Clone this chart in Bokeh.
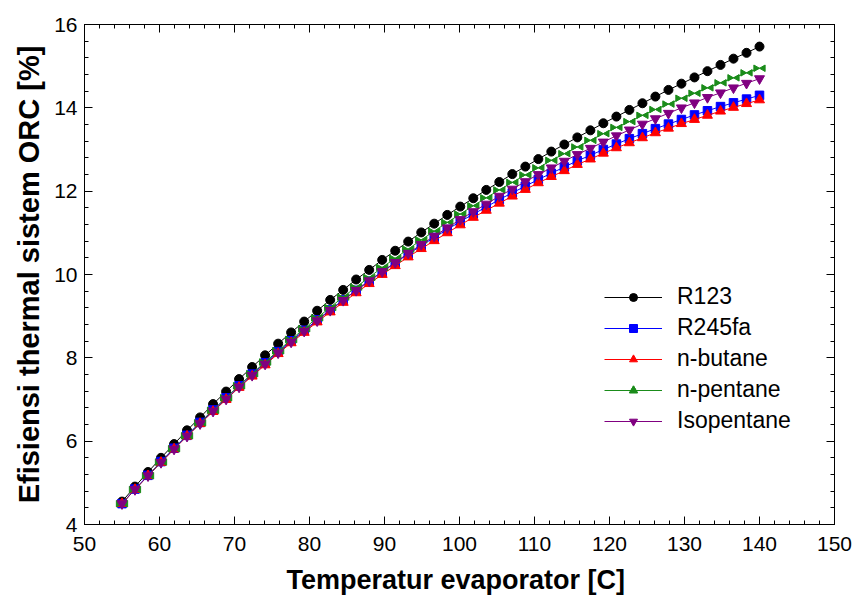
import math
from bokeh.plotting import figure
from bokeh.models import (LinearAxis, SingleIntervalTicker, Range1d, Legend, LegendItem,
                          CustomJSTickFormatter, ColumnDataSource, Title)
from bokeh.transform import dodge
from bokeh.embed import file_html
from bokeh.resources import INLINE

# ---------------- data ----------------
temp = [55.00, 56.73, 58.47, 60.20, 61.94, 63.67, 65.41, 67.14, 68.88, 70.61,
        72.35, 74.08, 75.82, 77.55, 79.29, 81.02, 82.76, 84.49, 86.22, 87.96,
        89.69, 91.43, 93.16, 94.90, 96.63, 98.37, 100.10, 101.84, 103.57, 105.31,
        107.04, 108.78, 110.51, 112.24, 113.98, 115.71, 117.45, 119.18, 120.92, 122.65,
        124.39, 126.12, 127.86, 129.59, 131.33, 133.06, 134.80, 136.53, 138.27, 140.00]

r123 = [4.55, 4.91, 5.26, 5.60, 5.93, 6.26, 6.57, 6.89, 7.19, 7.49,
        7.78, 8.06, 8.34, 8.61, 8.87, 9.13, 9.39, 9.63, 9.88, 10.11,
        10.35, 10.57, 10.79, 11.01, 11.22, 11.43, 11.63, 11.83, 12.03, 12.22,
        12.41, 12.59, 12.77, 12.95, 13.12, 13.29, 13.46, 13.63, 13.79, 13.95,
        14.11, 14.27, 14.43, 14.58, 14.73, 14.88, 15.03, 15.18, 15.32, 15.47]

r245fa = [4.50, 4.85, 5.18, 5.51, 5.83, 6.14, 6.45, 6.75, 7.04, 7.33,
          7.61, 7.88, 8.15, 8.41, 8.66, 8.91, 9.15, 9.39, 9.62, 9.84,
          10.06, 10.28, 10.49, 10.69, 10.89, 11.08, 11.27, 11.45, 11.62, 11.80,
          11.96, 12.12, 12.28, 12.43, 12.58, 12.73, 12.86, 13.00, 13.13, 13.26,
          13.38, 13.50, 13.61, 13.72, 13.83, 13.93, 14.03, 14.12, 14.21, 14.30]

nbutane = [4.50, 4.84, 5.17, 5.49, 5.81, 6.12, 6.42, 6.71, 7.00, 7.29,
           7.56, 7.83, 8.10, 8.36, 8.61, 8.86, 9.10, 9.33, 9.56, 9.78,
           10.00, 10.21, 10.42, 10.62, 10.81, 11.00, 11.19, 11.37, 11.54, 11.71,
           11.88, 12.04, 12.20, 12.35, 12.49, 12.64, 12.77, 12.91, 13.04, 13.16,
           13.28, 13.40, 13.51, 13.62, 13.72, 13.82, 13.92, 14.01, 14.10, 14.19]

npentane = [4.50, 4.84, 5.17, 5.50, 5.82, 6.13, 6.44, 6.74, 7.04, 7.33,
            7.62, 7.90, 8.17, 8.44, 8.70, 8.96, 9.21, 9.46, 9.70, 9.93,
            10.17, 10.39, 10.61, 10.83, 11.04, 11.25, 11.45, 11.65, 11.84, 12.03,
            12.21, 12.39, 12.56, 12.74, 12.90, 13.06, 13.22, 13.38, 13.53, 13.67,
            13.82, 13.96, 14.09, 14.23, 14.35, 14.48, 14.60, 14.72, 14.84, 14.95]

isopentane = [4.50, 4.84, 5.17, 5.49, 5.81, 6.12, 6.42, 6.72, 7.01, 7.30,
              7.58, 7.85, 8.12, 8.38, 8.64, 8.89, 9.14, 9.38, 9.62, 9.85,
              10.07, 10.29, 10.51, 10.72, 10.92, 11.12, 11.32, 11.51, 11.69, 11.88,
              12.05, 12.23, 12.40, 12.56, 12.72, 12.88, 13.03, 13.18, 13.33, 13.47,
              13.61, 13.74, 13.87, 14.00, 14.12, 14.25, 14.36, 14.48, 14.59, 14.70]

labels = ["R123", "R245fa", "n-butane", "n-pentane", "Isopentane"]
x_label = "Temperatur evaporator  [C]"
y_label = "Efisiensi thermal sistem ORC [%]"

FONT = "Liberation Sans"

src = ColumnDataSource(dict(temp=temp, r123=r123, r245fa=r245fa, nbutane=nbutane,
                            npentane=npentane, isopentane=isopentane))

p = figure(width=855, height=599, output_backend="svg", toolbar_location=None,
           x_range=Range1d(50, 150), y_range=Range1d(4, 16),
           min_border_left=84, min_border_right=21, min_border_top=24, min_border_bottom=75,
           background_fill_color="white", border_fill_color="white")
p.xgrid.grid_line_color = None
p.ygrid.grid_line_color = None
p.outline_line_color = "black"
p.outline_line_width = 1


def style_axis(ax, interval, show_labels=True):
    ax.ticker = SingleIntervalTicker(interval=interval, num_minor_ticks=5)
    ax.major_tick_in = 8
    ax.major_tick_out = 0
    ax.minor_tick_in = 4
    ax.minor_tick_out = 0
    ax.axis_line_color = "black"
    ax.major_tick_line_color = "black"
    ax.minor_tick_line_color = "black"
    ax.major_label_text_font = FONT
    ax.major_label_text_font_size = "21px"
    ax.major_label_text_color = "black"
    ax.axis_label_text_font = FONT
    ax.axis_label_text_font_size = "27px"
    ax.axis_label_text_font_style = "bold"
    ax.axis_label_text_color = "black"
    if not show_labels:
        ax.formatter = CustomJSTickFormatter(code="return ''")
        ax.major_label_standoff = 0


style_axis(p.xaxis[0], 10)
style_axis(p.yaxis[0], 2)
p.xaxis[0].axis_label = x_label
p.xaxis[0].major_label_standoff = 12
p.xaxis[0].axis_label_standoff = 11
p.yaxis[0].major_label_standoff = 7

# y-axis title as a side title so it can be nudged along the axis
ytitle = Title(text=y_label, align="center", offset=-16, standoff=13,
               text_font=FONT, text_font_size="29px", text_font_style="bold",
               text_color="black")
p.add_layout(ytitle, "left")

top_ax = LinearAxis()
style_axis(top_ax, 10, show_labels=False)
p.add_layout(top_ax, "above")
right_ax = LinearAxis()
style_axis(right_ax, 2, show_labels=False)
p.add_layout(right_ax, "right")

items = []

# R123
l = p.line("temp", "r123", source=src, line_color="black", line_width=1)
m = p.scatter("temp", "r123", source=src, marker="circle", size=9,
              fill_color="black", line_color="black")
items.append(LegendItem(label=labels[0], renderers=[l, m]))

# R245fa
l = p.line("temp", "r245fa", source=src, line_color="#0000FF", line_width=1)
m = p.scatter("temp", "r245fa", source=src, marker="square", size=8.5,
              fill_color="#0000FF", line_color="#0000FF")
items.append(LegendItem(label=labels[1], renderers=[l, m]))

# n-butane
l = p.line("temp", "nbutane", source=src, line_color="#FF0000", line_width=1)
m = p.scatter("temp", "nbutane", source=src, marker="triangle", size=10,
              fill_color="#FF0000", line_color="#FF0000")
items.append(LegendItem(label=labels[2], renderers=[l, m]))

# n-pentane (bow-tie marker from two triangles)
GREEN = "#1A8C1A"
l = p.line("temp", "npentane", source=src, line_color=GREEN, line_width=1)
m1 = p.scatter(x=dodge("temp", -0.5, range=p.x_range), y="npentane", source=src,
               marker="triangle", size=6.5, angle=-math.pi / 2,
               fill_color=GREEN, line_color=GREEN)
m2 = p.scatter(x=dodge("temp", 0.5, range=p.x_range), y="npentane", source=src,
               marker="triangle", size=6.5, angle=math.pi / 2,
               fill_color=GREEN, line_color=GREEN)
items.append(LegendItem(label=labels[3], renderers=[l, m1, m2]))

# Isopentane
PURPLE = "#800080"
l = p.line("temp", "isopentane", source=src, line_color=PURPLE, line_width=1)
m = p.scatter("temp", "isopentane", source=src, marker="inverted_triangle", size=10,
              fill_color=PURPLE, line_color=PURPLE)
items.append(LegendItem(label=labels[4], renderers=[l, m]))

legend = Legend(items=items, location=(520, 90), border_line_color=None,
                background_fill_alpha=0, label_text_font=FONT,
                label_text_font_size="23px", label_text_color="black",
                glyph_width=58, glyph_height=20, label_standoff=15,
                spacing=4, padding=0, margin=0)
p.add_layout(legend)

open("out.html", "w").write(file_html(p, INLINE))
